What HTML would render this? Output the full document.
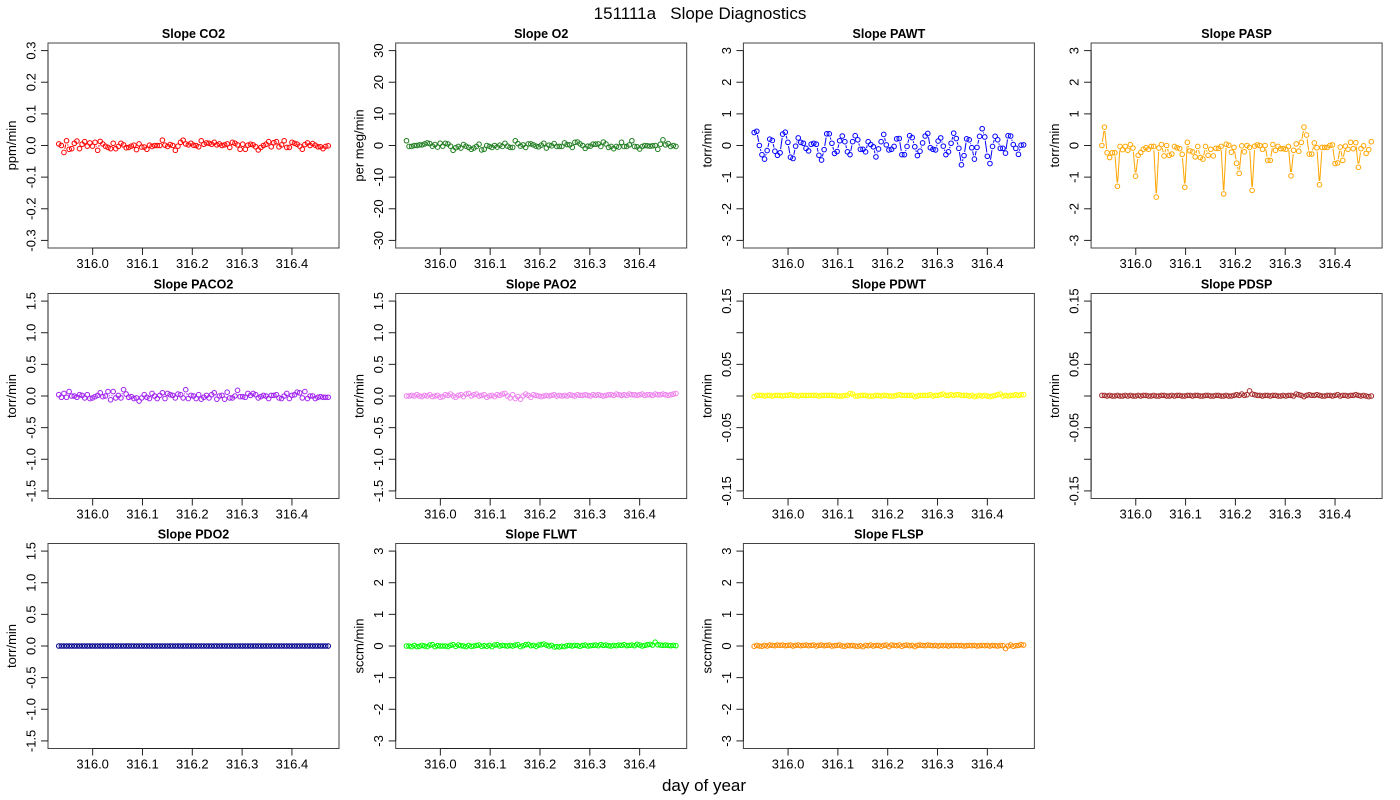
<!DOCTYPE html>
<html><head><meta charset="utf-8"><style>
html,body{margin:0;padding:0;background:#fff;}
svg{display:block;font-family:"Liberation Sans",sans-serif;}
</style></head><body>
<svg id="chart" width="1400" height="800" viewBox="0 0 1400 800">
<text x="700" y="19" font-size="17" text-anchor="middle">151111a&#160;&#160;&#160;Slope Diagnostics</text>
<text x="704" y="791" font-size="17" text-anchor="middle">day of year</text>
</svg>
<script>
const days=[315.9320,315.9372,315.9424,315.9476,315.9528,315.9580,315.9632,315.9684,315.9736,315.9788,
315.9840,315.9892,315.9944,315.9996,316.0048,316.0100,316.0152,316.0204,316.0256,316.0308,
316.0360,316.0412,316.0464,316.0516,316.0568,316.0620,316.0672,316.0724,316.0776,316.0828,
316.0880,316.0932,316.0984,316.1036,316.1088,316.1140,316.1192,316.1244,316.1296,316.1348,
316.1400,316.1452,316.1504,316.1556,316.1608,316.1660,316.1712,316.1764,316.1816,316.1868,
316.1920,316.1972,316.2024,316.2076,316.2128,316.2180,316.2232,316.2284,316.2336,316.2388,
316.2440,316.2492,316.2544,316.2596,316.2648,316.2700,316.2752,316.2804,316.2856,316.2908,
316.2960,316.3012,316.3064,316.3116,316.3168,316.3220,316.3272,316.3324,316.3376,316.3428,
316.3480,316.3532,316.3584,316.3636,316.3688,316.3740,316.3792,316.3844,316.3896,316.3948,
316.4000,316.4052,316.4104,316.4156,316.4208,316.4260,316.4312,316.4364,316.4416,316.4468,
316.4520,316.4572,316.4624,316.4676,316.4728];
const xTicks=[316.0,316.1,316.2,316.3,316.4];
const xTickLabels=["316.0","316.1","316.2","316.3","316.4"];

const co2=[0.005,0,-0.022,0.015,-0.012,-0.01,0.007,0.014,-0.01,0.004,
0.012,-0.002,0.008,-0.002,0.01,-0.015,0.013,0.005,-0.002,-0.006,
-0.01,0.007,-0.01,-0.003,0.007,0.002,-0.007,-0.006,-0.002,0.001,
-0.013,0.005,-0.005,-0.005,-0.012,0.001,-0.003,0,0,0,
0.017,0.001,-0.003,0.003,0,-0.015,-0.002,0.01,0.017,0.005,
0.002,0.007,0.001,0,-0.004,0.015,0.004,0.008,0.007,0.004,
0.01,0.002,0.005,0,0.002,0.005,-0.006,0.01,0.007,0.002,
-0.012,0.004,-0.012,0.001,0.004,0.002,-0.004,-0.014,-0.006,0,
0.004,0.012,-0.004,0.009,0.012,-0.004,0.002,0.015,-0.006,-0.006,
0.01,0.007,0.004,-0.002,-0.012,0.003,0.008,0,0.006,0.001,
-0.004,-0.004,-0.01,-0.003,-0.001];
const o2=[1.5,-0.3,-0.3,0,0,0.2,0.2,0.5,0.8,0.6,
-0.2,0.3,-0.5,0.7,-0.2,0.7,0.5,-0.2,-1.5,-0.7,
-0.3,-0.8,0.3,-0.2,-0.6,-1.2,-0.8,-0.3,0.4,-1.4,
-1.2,0,-0.3,-0.6,0,-0.5,0.1,-0.3,0.7,-0.2,
-0.6,-0.6,1.5,0.6,-0.2,0.2,-0.6,0.5,0.5,0.2,
-0.2,-0.4,0.1,0.7,-0.8,0.1,-0.1,0.6,-0.3,-0.3,
-0.3,0.8,0.3,0.2,-0.6,1,1.1,0.5,0,-0.9,
-0.2,-0.2,0.4,0.4,0.5,-0.3,1.1,0.5,-0.6,-0.3,
-1,-0.3,-0.5,1,-0.3,-0.3,0.2,1.5,-0.3,-0.4,
-1.1,-0.3,0,-0.1,-0.2,-0.1,0,-1.2,0.4,1.8,
0.2,0.6,-0.3,0,-0.3];
const pawt=[0.41,0.45,0,-0.29,-0.43,-0.16,0.2,0.16,-0.18,-0.31,
-0.23,0.36,0.42,0.1,-0.37,-0.41,-0.02,0.24,0.1,0.07,
-0.09,-0.17,0.04,0.07,0.04,-0.31,-0.46,-0.13,0.37,0.37,
0.07,-0.25,-0.19,0.15,0.3,0.12,-0.2,-0.29,0.12,0.31,
0.18,-0.12,-0.12,-0.2,0.12,0.03,-0.04,-0.36,-0.11,0.12,
0.35,0.02,-0.14,-0.12,-0.03,0.21,0.22,-0.29,-0.29,-0.03,
0.31,0.25,-0.04,-0.32,-0.18,0.08,0.3,0.38,-0.07,-0.12,
-0.14,0.14,0.24,-0.02,-0.29,-0.2,0.07,0.39,0.22,-0.09,
-0.61,-0.32,0.21,0.18,-0.07,-0.43,-0.06,0.29,0.53,0.27,
-0.34,-0.57,-0.03,0.29,0.18,-0.09,-0.09,-0.24,0.31,0.3,
0.03,-0.09,-0.28,0.01,0.02];
const pasp=[0,0.58,-0.23,-0.38,-0.23,-0.23,-1.29,-0.03,-0.13,-0.03,
-0.15,0.03,-0.08,-0.97,-0.31,-0.22,-0.12,-0.07,-0.12,-0.03,
-0.03,-1.63,-0.08,0.03,-0.33,0,-0.31,-0.27,-0.03,-0.07,
-0.1,-0.28,-1.32,0.1,-0.17,-0.2,-0.36,-0.03,-0.38,-0.43,
-0.03,-0.31,-0.12,-0.33,-0.09,-0.09,-0.03,-1.53,0.04,0.01,
-0.21,-0.06,-0.56,-0.88,-0.01,-0.2,0,-0.06,-1.42,-0.02,
0.02,0,-0.12,0,-0.47,-0.47,0.03,-0.15,-0.03,-0.1,
-0.1,-0.12,-0.03,-0.96,-0.15,0.05,-0.18,0.1,0.58,0.33,
-0.27,-0.27,0.08,-0.07,-1.24,-0.06,-0.06,-0.06,0,0.02,
-0.57,-0.55,-0.05,-0.47,-0.02,-0.12,0.1,-0.1,0.09,-0.69,
-0.1,-0.01,-0.25,-0.13,0.12];
const paco2=[0.02,-0.02,0.04,-0.02,0.07,0,0,-0.02,0.02,0.01,
-0.03,0.02,-0.04,-0.03,-0.01,0.01,0.05,-0.01,0,0.07,
-0.06,0.07,-0.03,0.01,-0.03,0.1,0.03,-0.02,-0.01,-0.04,
-0.03,-0.08,-0.03,0.02,-0.02,-0.04,0.04,0,-0.04,0.01,
0.05,-0.04,0.04,0.02,0.01,-0.03,0.03,0.02,-0.03,0.1,
-0.04,0.01,0,-0.04,0.02,-0.05,-0.02,0.01,-0.03,0.02,
0.05,-0.05,0,0.01,-0.05,0.06,-0.03,-0.03,0,0.09,
-0.01,-0.01,-0.02,0.04,0.01,0.04,0.02,-0.03,-0.01,0.01,
0,-0.04,0.01,0.01,0.02,-0.03,-0.04,0,0.04,-0.04,
0.01,0.02,0.06,0.05,-0.03,0.07,-0.04,0,0,-0.04,
-0.02,-0.01,-0.02,-0.02,-0.02];
const pao2=[0,0,0.01,0,0.02,0,-0.01,0.01,0,0.02,
-0.01,0,0.01,-0.02,-0.01,0.02,0.01,0.03,0,-0.02,
0.01,0.02,-0.01,0.03,0.04,0,0.02,0.03,0,0.01,
0.02,-0.02,0,0.01,-0.01,0.02,0.01,0.03,0.04,0,
-0.03,0.02,-0.04,-0.01,-0.05,0,0.03,0.01,-0.02,0.02,
0.01,0,-0.01,0,0.01,0,0.01,0.02,0,0.01,
0,0.01,0,0.02,0.01,0,0.02,0.01,0.01,0.02,
0.01,0,0.02,0.01,0.02,0.01,0,0.01,0.02,0.02,
0.01,0.03,0.02,0.01,0.02,0.01,0.03,0.02,0.02,0.01,
0.02,0.03,0.01,0.02,0.02,0.01,0.03,0.02,0.02,0.03,
0.02,0.01,0.02,0.03,0.04];
const pdwt=[-0.001,0.001,0.001,0.001,0,0.001,0.001,0,0.001,0.001,
0.001,0,0.001,0.001,0.002,0.001,0.001,0,0.001,0.001,
0.001,0.001,0.001,0.001,0.001,0,0.001,0.001,0.001,0.001,
0.001,0.001,0,0,0,0.001,0.001,0.004,0.003,0,
0,0.001,0.001,0.001,0,0,0,0.001,0.001,0,
0.001,0.001,0,0,0,0.001,0.002,0.001,0.001,0.001,
0.001,0.001,-0.001,0,0.001,0.001,0.001,0.001,0.002,0,
0.001,0.001,0.002,0.003,0.001,0.001,0.002,0.001,0.002,0.002,
0.001,0.001,0.001,0,0.001,-0.001,0,0.001,0,0.001,
0,-0.001,0,0.001,0.002,0.003,0,0.001,0,0.001,
0.001,0.002,0.001,0.002,0.002];
const pdsp=[0.001,0.001,0,0.001,0,0,0.001,0,0,0.001,
0,0.001,0,0,0.001,0,0.001,0.001,0,0,
0.001,0,0,0.001,0.001,0,0,0.001,0,0.001,
0.001,0,0,0.001,0.001,0,0.001,0.001,0,0,
0.001,0.001,0,0,0.001,0.001,0,0,0.001,0,
0,0.001,0.002,0.001,0.003,0.001,0.002,0.008,0.003,0.002,
0.001,0.001,0,0.001,0.001,0,0.001,0.001,0,0,
0.001,0,0.001,0.001,0,0.003,0.002,0.001,-0.001,0.001,
0.002,0.001,0.001,0.002,0.001,0,0,0.001,0.001,0,
0.001,0.002,0,0.001,0.001,0,0.001,0.001,0.002,0.001,
0,0.001,0,-0.001,0];
const pdo2=[0,0,0,0,0,0,0,0,0,0,0,0,0,0,0,0,0,0,0,0,
0,0,0,0,0,0,0,0,0,0,0,0,0,0,0,0,0,0,0,0,
0,0,0,0,0,0,0,0,0,0,0,0,0,0,0,0,0,0,0,0,
0,0,0,0,0,0,0,0,0,0,0,0,0,0,0,0,0,0,0,0,
0,0,0,0,0,0,0,0,0,0,0,0,0,0,0,0,0,0,0,0,
0,0,0,0,0];
const flwt=[0,0,-0.02,0.02,-0.02,-0.01,0.02,0,-0.02,0.03,
0.04,-0.02,0.01,0,0,0,-0.02,0.02,0.04,-0.01,
0.03,0.01,0,-0.02,0.02,-0.01,0,0.02,0.03,-0.01,
0.01,-0.01,0.02,-0.02,0.03,0.04,0,0.02,0.01,0,
0.02,0,0.03,0.04,-0.02,0.01,0.04,0.05,0.01,0.02,
-0.01,0.03,0.04,0.06,0.03,0,0.02,-0.03,-0.02,-0.03,
-0.01,-0.02,0.01,0.02,0,0.02,0.01,-0.01,0.02,0.03,
0,0.01,0.02,0.03,0.01,0.04,0.02,0.03,0.01,0,
0.02,0.01,0.03,0.02,0.04,0.01,0.02,0.03,0.01,0.05,
0.03,0,0.02,0.04,0.05,0.03,0.12,0.04,0.03,0.02,
0.03,0.02,0.01,0.02,0.01];
const flsp=[-0.01,0.02,0,-0.01,0.02,0,0.03,0.02,0.01,0.03,
0.02,0.03,0.01,0.02,0.03,0,0.02,0.03,0.01,0.02,
0.03,0.01,0.02,0.03,0,0.02,0.03,0.01,0.02,0.03,
0,0.01,0.02,0.03,0,-0.01,0.02,0.01,0.02,0,
-0.01,0.01,-0.02,0.02,0.01,0.03,0,0.02,0.02,-0.01,
0.02,0.03,-0.02,0.03,0.02,0.01,0.03,-0.01,0.02,0.03,
0.01,0.02,-0.02,0.02,0.03,0.02,0.01,0.03,0.02,0.01,
0.02,0,0.02,0.01,0.02,0,0.02,0.01,0.02,0.01,
0.02,0,0.01,0.02,0.01,0.02,0,0.01,0.02,0.01,
0.02,0,0.02,0.01,0,0.02,0.01,-0.08,0,0.03,
-0.01,0.01,0.02,0.04,0.03];

const ticks03=[-0.3,-0.2,-0.1,0,0.1,0.2,0.3];
const labels03=["-0.3","-0.2","-0.1","0.0","0.1","0.2","0.3"];
const ticks30=[-30,-20,-10,0,10,20,30];
const labels30=["-30","-20","-10","0","10","20","30"];
const ticks3=[-3,-2,-1,0,1,2,3];
const labels3=["-3","-2","-1","0","1","2","3"];
const ticks15=[-1.5,-1,-0.5,0,0.5,1,1.5];
const labels15=["-1.5","-1.0","-0.5","0.0","0.5","1.0","1.5"];
const ticks015=[-0.15,-0.1,-0.05,0,0.05,0.1,0.15];
const labels015=["-0.15","","-0.05","","0.05","","0.15"];

const panels=[
 {t:"Slope CO2",v:co2,c:"#ff0000",u:"ppm/min",lim:0.3,tk:ticks03,tl:labels03,id:"co2"},
 {t:"Slope O2",v:o2,c:"#1e7d1e",u:"per meg/min",lim:30,tk:ticks30,tl:labels30,id:"o2"},
 {t:"Slope PAWT",v:pawt,c:"#0000ff",u:"torr/min",lim:3,tk:ticks3,tl:labels3,id:"pawt"},
 {t:"Slope PASP",v:pasp,c:"#ffa500",u:"torr/min",lim:3,tk:ticks3,tl:labels3,id:"pasp"},
 {t:"Slope PACO2",v:paco2,c:"#a020f0",u:"torr/min",lim:1.5,tk:ticks15,tl:labels15,id:"paco2"},
 {t:"Slope PAO2",v:pao2,c:"#ee82ee",u:"torr/min",lim:1.5,tk:ticks15,tl:labels15,id:"pao2"},
 {t:"Slope PDWT",v:pdwt,c:"#ffff00",u:"torr/min",lim:0.15,tk:ticks015,tl:labels015,id:"pdwt"},
 {t:"Slope PDSP",v:pdsp,c:"#a52a2a",u:"torr/min",lim:0.15,tk:ticks015,tl:labels015,id:"pdsp"},
 {t:"Slope PDO2",v:pdo2,c:"#00008b",u:"torr/min",lim:1.5,tk:ticks15,tl:labels15,id:"pdo2"},
 {t:"Slope FLWT",v:flwt,c:"#00ff00",u:"sccm/min",lim:3,tk:ticks3,tl:labels3,id:"flwt"},
 {t:"Slope FLSP",v:flsp,c:"#ff8c00",u:"sccm/min",lim:3,tk:ticks3,tl:labels3,id:"flsp"}
];

const NS="http://www.w3.org/2000/svg";
const svg=document.getElementById("chart");
function mk(tag,attrs,parent,txt){const e=document.createElementNS(NS,tag);for(const k in attrs)e.setAttribute(k,attrs[k]);if(txt!==undefined)e.textContent=txt;parent.appendChild(e);return e;}

const dmin=Math.min(...days),dmax=Math.max(...days),dr=dmax-dmin;
const xlo=dmin-0.04*dr,xhi=dmax+0.04*dr;
const rowTops=[43,293.5,543.5];
const W=291,H=205;

panels.forEach((p,i)=>{
 const col=i%4,row=Math.floor(i/4);
 const x0=48+col*347.7,y0=rowTops[row];
 const ylo=-p.lim*1.08,yhi=p.lim*1.08;
 const X=d=>x0+(d-xlo)/(xhi-xlo)*W;
 const Y=v=>y0+H-(v-ylo)/(yhi-ylo)*H;
 const g=mk("g",{},svg);
 
 
 const tt=mk("text",{x:x0+W/2,y:y0-5,"font-size":12.5,"font-weight":"bold","text-anchor":"middle"},g,p.t);
 
 
 const box=mk("rect",{x:x0,y:y0,width:W,height:H,fill:"none",stroke:"#444","stroke-width":1},g);
 
 
 const xa=mk("g",{},g);
 
 
 const yb=y0+H;
 mk("line",{x1:X(xTicks[0]),x2:X(xTicks[xTicks.length-1]),y1:yb,y2:yb,stroke:"#222"},xa);
 xTicks.forEach((t,j)=>{
  mk("line",{x1:X(t),x2:X(t),y1:yb,y2:yb+7,stroke:"#222"},xa);
  const l=mk("text",{x:X(t),y:yb+20,"font-size":13,"text-anchor":"middle"},xa,xTickLabels[j]);
  
  
 });
 const ya=mk("g",{},g);
 
 
 mk("line",{x1:x0,x2:x0,y1:Y(p.tk[0]),y2:Y(p.tk[p.tk.length-1]),stroke:"#222"},ya);
 p.tk.forEach((t,j)=>{
  mk("line",{x1:x0-7,x2:x0,y1:Y(t),y2:Y(t),stroke:"#222"},ya);
  if(p.tl[j]){
   const l=mk("text",{x:x0-17,y:Y(t),"font-size":13,"text-anchor":"middle",transform:`rotate(-90 ${x0-17} ${Y(t)})`,dy:"0.35em"},ya,p.tl[j]);
   
   
  }
 });
 const yt=mk("text",{x:x0-32,y:y0+H/2,"font-size":13,"text-anchor":"middle",transform:`rotate(-90 ${x0-32} ${y0+H/2})`},ya,p.u);
 
 
 const sg=mk("g",{},g);
 
 
 const n=Math.min(p.v.length,days.length);
 const gap=3.8;
 for(let k=0;k<n-1;k++){
  const ax=X(days[k]),ay=Y(p.v[k]),bx=X(days[k+1]),by=Y(p.v[k+1]);
  const dx=bx-ax,dy=by-ay,L=Math.hypot(dx,dy);
  if(L>2*gap+0.5){
   const ux=dx/L,uy=dy/L;
   const ln=mk("line",{x1:ax+ux*gap,y1:ay+uy*gap,x2:bx-ux*gap,y2:by-uy*gap,stroke:p.c,"stroke-width":1},sg);
   
   
  }
 }
 for(let k=0;k<n;k++){
  const c=mk("circle",{cx:X(days[k]),cy:Y(p.v[k]),r:2.3,fill:"none",stroke:p.c,"stroke-width":1},sg);
  
  
 }
});
</script>
</body></html>
